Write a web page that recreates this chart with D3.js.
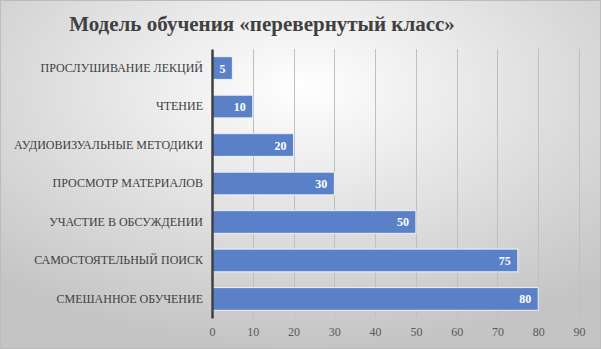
<!DOCTYPE html>
<html><head><meta charset="utf-8">
<script src="https://cdn.jsdelivr.net/npm/d3@7"></script>
</head>
<body style="margin:0;padding:0;">
<script>
const categories = ["ПРОСЛУШИВАНИЕ ЛЕКЦИЙ","ЧТЕНИЕ","АУДИОВИЗУАЛЬНЫЕ МЕТОДИКИ","ПРОСМОТР МАТЕРИАЛОВ","УЧАСТИЕ В ОБСУЖДЕНИИ","САМОСТОЯТЕЛЬНЫЙ ПОИСК","СМЕШАННОЕ ОБУЧЕНИЕ"];
const values = [5,10,20,30,50,75,80];
const xTicks = [0,10,20,30,40,50,60,70,80,90];
const title = "Модель обучения «перевернутый класс»";

const FONT = '"Liberation Serif", "Times New Roman", Tinos, serif';
const W = 601, H = 349;
const svg = d3.select("body").append("svg").attr("width", W).attr("height", H)
  .style("display","block").style("font-family", FONT);
const defs = svg.append("defs");
const rg = defs.append("radialGradient").attr("id","bg")
  .attr("cx","50%").attr("cy","25%").attr("r","75%");
rg.append("stop").attr("offset","0%").attr("stop-color","#ffffff");
rg.append("stop").attr("offset","100%").attr("stop-color","#c4c4c4");
svg.append("rect").attr("x",0.5).attr("y",0.5).attr("width",W-1).attr("height",H-1)
  .attr("fill","url(#bg)").attr("stroke","#bcbcbc").attr("stroke-width",1);

svg.append("text").attr("x",262).attr("y",31).attr("text-anchor","middle")
  .style("font-family",FONT).style("font-weight","bold").style("font-size","21px")
  .attr("fill","#404040").text(title);

const mLeft = 212, mRight = 579, mTop = 49, mBottom = 318;
const x = d3.scaleLinear().domain([0,90]).range([mLeft,mRight]);
const y = d3.scaleBand().domain(categories).range([mTop,mBottom]).paddingInner(0.41).paddingOuter(0.2);

svg.append("g").selectAll("line").data(xTicks.slice(1)).join("line")
  .attr("x1",d=>Math.round(x(d))+0.5).attr("x2",d=>Math.round(x(d))+0.5).attr("y1",mTop).attr("y2",mBottom)
  .attr("stroke","#bfbfbf").attr("stroke-width",1);

svg.append("g").selectAll("rect").data(values).join("rect")
  .attr("x",x(0)).attr("y",(d,i)=>y(categories[i]))
  .attr("width",d=>x(d)-x(0)).attr("height",y.bandwidth())
  .attr("fill","#5a81c8").attr("stroke","#eef2f8").attr("stroke-width",1);

svg.append("g").selectAll("text").data(values).join("text")
  .attr("x",d=>x(d)-7).attr("y",(d,i)=>y(categories[i])+y.bandwidth()/2+4.5)
  .attr("text-anchor","end").style("font-family",FONT).style("font-weight","bold")
  .style("font-size","12px").attr("fill","#ffffff").text(d=>d);

const ya = svg.append("g").attr("transform",`translate(${mLeft},0)`)
  .call(d3.axisLeft(y).tickSize(0).tickPadding(9));
ya.attr("font-family",null).style("font-family",FONT);
ya.select(".domain").attr("stroke","#404040").attr("stroke-width",2.5);
ya.selectAll("text").style("font-family",FONT).style("font-size","12px").attr("fill","#404040");

const xa = svg.append("g").attr("transform",`translate(0,${mBottom})`)
  .call(d3.axisBottom(x).tickValues(xTicks).tickSize(0).tickPadding(9));
xa.attr("font-family",null).style("font-family",FONT);
xa.select(".domain").remove();
xa.selectAll("text").style("font-family",FONT).style("font-size","12px").attr("fill","#595959");
</script>
</body></html>
